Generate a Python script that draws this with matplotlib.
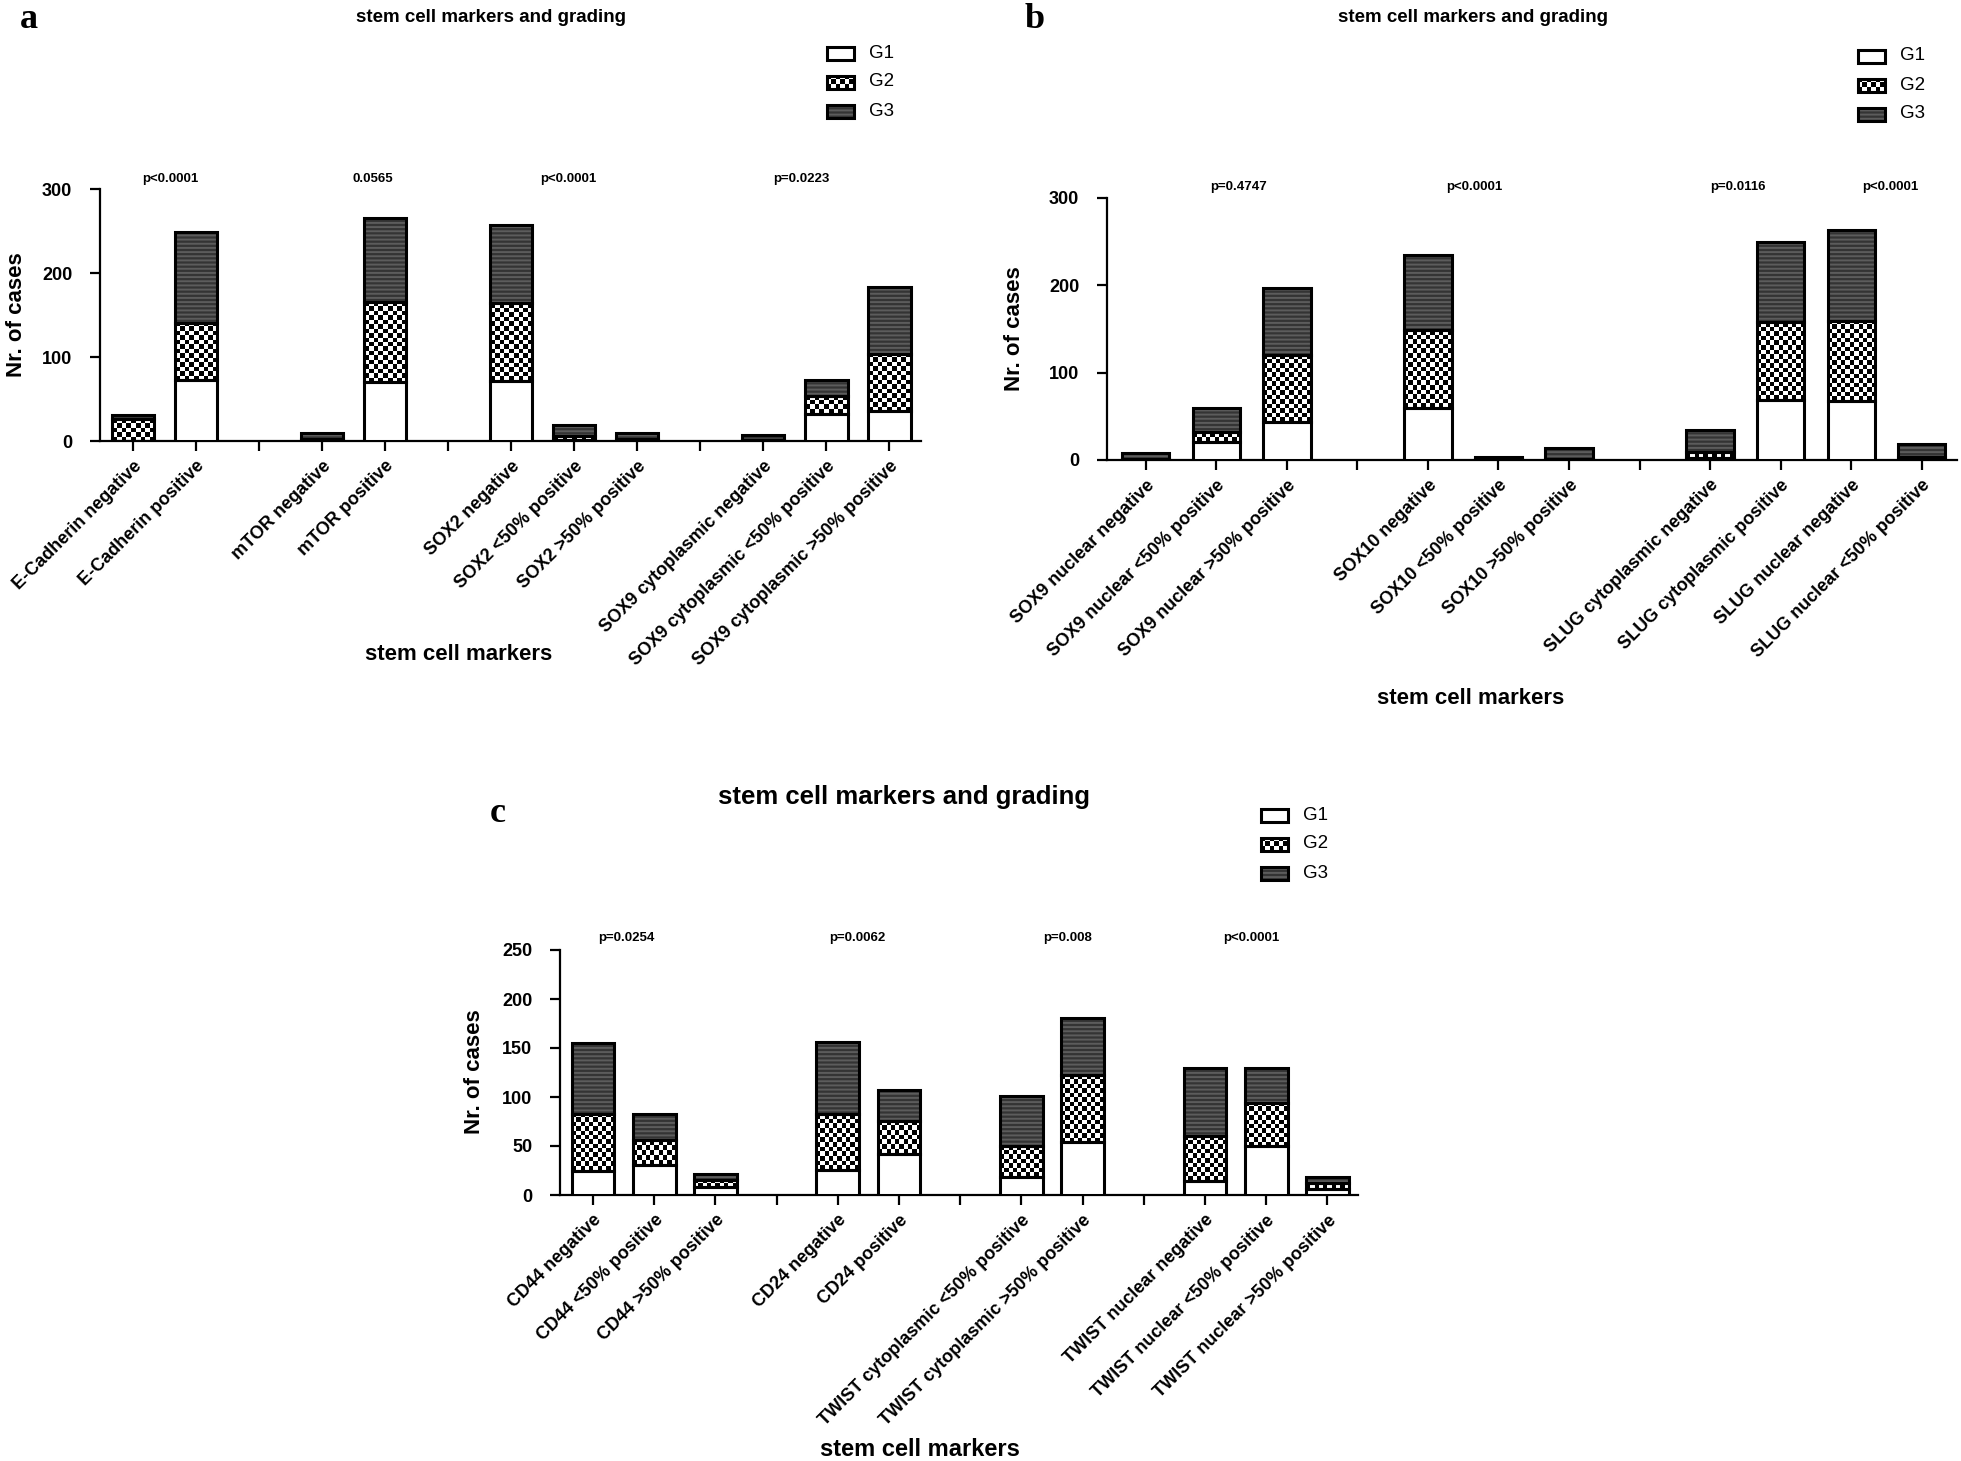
import numpy as np
import matplotlib
matplotlib.use('Agg')
import matplotlib.pyplot as plt
from matplotlib.patches import Rectangle

plt.rcParams['font.family'] = ['Liberation Sans', 'DejaVu Sans']
plt.rcParams['hatch.linewidth'] = 1.4

# ---- panel a ----
labels_a = ['E-Cadherin negative', 'E-Cadherin positive', '',
            'mTOR negative', 'mTOR positive', '',
            'SOX2 negative', 'SOX2 <50% positive', 'SOX2 >50% positive', '',
            'SOX9 cytoplasmic negative', 'SOX9 cytoplasmic <50% positive',
            'SOX9 cytoplasmic >50% positive']
g1_a = [0, 73, 0, 0, 70, 0, 72, 1, 0, 0, 0, 32, 36]
g2_a = [26, 68, 0, 2, 95, 0, 92, 5, 2, 0, 1, 22, 68]
g3_a = [5, 108, 0, 7, 100, 0, 93, 13, 7, 0, 6, 19, 79]
pvals_a = ['p<0.0001', '0.0565', 'p<0.0001', 'p=0.0223']

# ---- panel b ----
labels_b = ['SOX9 nuclear negative', 'SOX9 nuclear <50% positive',
            'SOX9 nuclear >50% positive', '',
            'SOX10 negative', 'SOX10 <50% positive', 'SOX10 >50% positive', '',
            'SLUG cytoplasmic negative', 'SLUG cytoplasmic positive',
            'SLUG nuclear negative', 'SLUG nuclear <50% positive']
g1_b = [0, 21, 43, 0, 60, 0, 0, 0, 2, 69, 67, 3]
g2_b = [1, 11, 77, 0, 89, 1, 1, 0, 7, 89, 92, 1]
g3_b = [7, 27, 77, 0, 86, 3, 13, 0, 25, 92, 104, 14]
pvals_b = ['p=0.4747', 'p<0.0001', 'p=0.0116', 'p<0.0001']

# ---- panel c ----
labels_c = ['CD44 negative', 'CD44 <50% positive', 'CD44 >50% positive', '',
            'CD24 negative', 'CD24 positive', '',
            'TWIST cytoplasmic <50% positive', 'TWIST cytoplasmic >50% positive', '',
            'TWIST nuclear negative', 'TWIST nuclear <50% positive',
            'TWIST nuclear >50% positive']
g1_c = [25, 31, 8, 0, 26, 42, 0, 18, 54, 0, 14, 50, 6]
g2_c = [58, 25, 7, 0, 57, 34, 0, 32, 68, 0, 46, 44, 6]
g3_c = [72, 27, 6, 0, 73, 31, 0, 51, 59, 0, 70, 36, 6]
pvals_c = ['p=0.0254', 'p=0.0062', 'p=0.008', 'p<0.0001']

W, H = 1961, 1461
fig = plt.figure(figsize=(W / 100, H / 100), dpi=100)

LW = 2.2
CELL = 4.5          # checker square size in px
G3_FACE = '#343434'
G3_STRIPE = '#5c5c5c'
NARROW = ['Liberation Sans Narrow', 'Liberation Sans', 'DejaVu Sans']


def px_axes(x0, x1, y_top, y_bot):
    # axes rectangle given in pixel coords of the figure
    return fig.add_axes([x0 / W, 1 - y_bot / H, (x1 - x0) / W, (y_bot - y_top) / H])


def checker(ax, x0, x1, y0, y1, nx, ny, clip):
    pat = np.indices((max(ny, 1), max(nx, 1))).sum(axis=0) % 2
    im = ax.imshow(pat, cmap='gray', vmin=0, vmax=1, extent=(x0, x1, y0, y1),
                   aspect='auto', interpolation='nearest', zorder=2.5)
    im.set_clip_path(clip)


def draw_panel(ax, labels, g1, g2, g3, xlim, ymax, yticks, pvals, pslots, py, width=0.67):
    n = len(labels)
    bb = ax.get_position()
    ppx = bb.width * W / (xlim[1] - xlim[0])
    ppy = bb.height * H / ymax
    for i in range(n):
        if labels[i] == '':
            continue
        b = 0
        if g1[i] > 0:
            ax.bar(i, g1[i], width, color='white', edgecolor='black', lw=LW, zorder=3)
            b += g1[i]
        if g2[i] > 0:
            p = ax.bar(i, g2[i], width, bottom=b, color='white', edgecolor='none', zorder=2)[0]
            checker(ax, i - width / 2, i + width / 2, b, b + g2[i],
                    int(round(width * ppx / CELL)), int(round(g2[i] * ppy / CELL)), p)
            ax.bar(i, g2[i], width, bottom=b, fill=False, edgecolor='black', lw=LW, zorder=3)
            b += g2[i]
        if g3[i] > 0:
            ax.bar(i, g3[i], width, bottom=b, color=G3_FACE, edgecolor=G3_STRIPE,
                   hatch='----', lw=0, zorder=2)
            ax.bar(i, g3[i], width, bottom=b, fill=False, edgecolor='black', lw=LW, zorder=3)
    ax.set_xlim(*xlim)
    ax.set_ylim(0, ymax)
    ax.set_xticks(range(n))
    ax.set_xticklabels(labels, rotation=45, ha='right', rotation_mode='anchor',
                       fontweight='bold', fontsize=13)
    ax.set_yticks(yticks)
    ax.set_yticklabels([str(t) for t in yticks], fontweight='bold', fontsize=13,
                       family=NARROW)
    for s in ['top', 'right']:
        ax.spines[s].set_visible(False)
    for s in ['left', 'bottom']:
        ax.spines[s].set_linewidth(1.6)
    ax.spines['left'].set_bounds(0, ymax)
    ax.tick_params(axis='x', direction='out', length=7, width=1.6, pad=5)
    ax.tick_params(axis='y', direction='out', length=7, width=1.6, pad=13)
    ax.patch.set_alpha(0)
    for t, s in zip(pvals, pslots):
        ax.text(s, py, t, ha='center', va='center', fontsize=9.5, fontweight='bold',
                family=NARROW, clip_on=False)


ax_a = px_axes(100, 921, 189, 441)
draw_panel(ax_a, labels_a, g1_a, g2_a, g3_a, (-0.52, 12.5), 300, [0, 100, 200, 300],
           pvals_a, [0.6, 3.8, 6.9, 10.6], 312)

ax_b = px_axes(1107, 1957, 198, 460)
draw_panel(ax_b, labels_b, g1_b, g2_b, g3_b, (-0.55, 11.5), 300, [0, 100, 200, 300],
           pvals_b, [1.31, 4.65, 8.4, 10.55], 313)

ax_c = px_axes(560, 1358, 950, 1195)
draw_panel(ax_c, labels_c, g1_c, g2_c, g3_c, (-0.54, 12.5), 250, [0, 50, 100, 150, 200, 250],
           pvals_c, [0.54, 4.32, 7.76, 10.76], 262, width=0.7)

# overlay in pixel coordinates for texts and legends
ov = fig.add_axes([0, 0, 1, 1])
ov.set_xlim(0, W)
ov.set_ylim(H, 0)
ov.axis('off')


def legend(x, y0, dy=29, bw=27, bh=13):
    for k, name in enumerate(['G1', 'G2', 'G3']):
        yc = y0 + k * dy
        r = Rectangle((x, yc - bh / 2), bw, bh, lw=LW, zorder=3, fill=False, edgecolor='black')
        if name == 'G2':
            back = Rectangle((x, yc - bh / 2), bw, bh, color='white', lw=0, zorder=2)
            ov.add_patch(back)
            checker(ov, x, x + bw, yc + bh / 2, yc - bh / 2,
                    int(round(bw / CELL)), int(round(bh / CELL)), back)
        elif name == 'G3':
            ov.add_patch(Rectangle((x, yc - bh / 2), bw, bh, facecolor=G3_FACE,
                                   edgecolor=G3_STRIPE, hatch='----', lw=0, zorder=2))
        ov.add_patch(r)
        ov.text(x + bw + 15, yc, name, ha='left', va='center', fontsize=13.5)


legend(827, 53)
legend(1858, 56)
legend(1261, 815)

ov.set_xlim(0, W)
ov.set_ylim(H, 0)

# panel letters
for x, y, t in [(20, 20, 'a'), (1025, 19, 'b'), (490, 813, 'c')]:
    ov.text(x, y, t, ha='left', va='center', fontsize=26, fontweight='bold',
            family=['Liberation Serif', 'DejaVu Serif'])

# titles
for x, y, fs in [(491, 18, 13.5), (1473, 18, 13.5), (904, 797, 18.5)]:
    ov.text(x, y, 'stem cell markers and grading', ha='center', va='center',
            fontsize=fs, fontweight='bold')

# axis titles
for x, y in [(17, 315), (1015, 329), (475, 1072)]:
    ov.text(x, y, 'Nr. of cases', ha='center', va='center', rotation=90,
            fontsize=16, fontweight='bold')
for x, y, fs in [(459, 654, 16), (1471, 699, 16), (920, 1449, 17)]:
    ov.text(x, y, 'stem cell markers', ha='center', va='center',
            fontsize=fs, fontweight='bold')

fig.savefig('out.png', dpi=100)
